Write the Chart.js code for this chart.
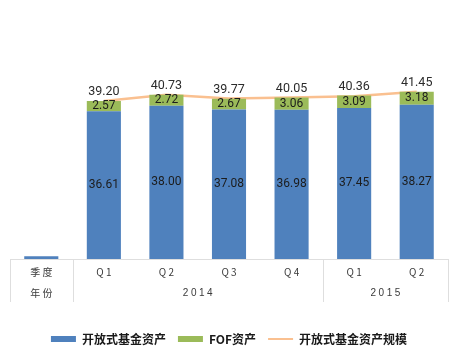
<!DOCTYPE html>
<html>
<head>
<meta charset="utf-8">
<script src="https://cdn.jsdelivr.net/npm/chart.js@4/dist/chart.umd.min.js"></script>
<style>
  html, body { margin: 0; padding: 0; background: #ffffff; }
  #wrap { position: relative; width: 463px; height: 355px; }
</style>
</head>
<body>
<div id="wrap"><canvas id="c"></canvas></div>
<script>
// ---- data ----
const categories = ["季 度", "Q 1", "Q 2", "Q 3", "Q 4", "Q 1", "Q 2"];
const headerRowLabel = "年 份";
const yearOf = [null, "2014", "2014", "2014", "2014", "2015", "2015"];
const openFundAssets = [0.7, 36.61, 38.00, 37.08, 36.98, 37.45, 38.27];
const fofAssets = [null, 2.57, 2.72, 2.67, 3.06, 3.09, 3.18];
const openFundTotal = [null, 39.20, 40.73, 39.77, 40.05, 40.36, 41.45];
const seriesNames = ["开放式基金资产", "FOF资产", "开放式基金资产规模"];

const BLUE = "#4F81BD", GREEN = "#9BBB59", PEACH = "#FAC090";
const GRIDC = "#dedede";

const labelPlugin = {
  id: "valueLabels",
  afterDatasetsDraw(chart) {
    const ctx = chart.ctx;
    ctx.save();
    ctx.textAlign = "center";
    ctx.textBaseline = "middle";
    chart.data.datasets.forEach((ds, di) => {
      const meta = chart.getDatasetMeta(di);
      meta.data.forEach((el, i) => {
        const v = ds.data[i];
        if (v == null || i === 0) return;
        const txt = v.toFixed(2);
        if (ds.type === "line") {
          ctx.font = "12.5px Roboto";
          ctx.fillStyle = "#2b2b2b";
          ctx.fillText(txt, el.x, el.y - 9);
        } else {
          ctx.font = "12px Roboto";
          ctx.fillStyle = "#1c1c1c";
          ctx.fillText(txt, el.x, (el.y + el.base) / 2);
        }
      });
    });
    ctx.restore();
  }
};

const tablePlugin = {
  id: "tableRows",
  afterDraw(chart) {
    const ctx = chart.ctx;
    const x = chart.scales.x;
    const n = categories.length;
    const step = (x.getPixelForValue(1) - x.getPixelForValue(0));
    const edge = i => x.getPixelForValue(i) - step / 2;
    const top = x.top;
    const bottom = x.top + 43;
    ctx.save();
    ctx.strokeStyle = GRIDC;
    ctx.lineWidth = 1;
    const bounds = [0, 1];
    for (let i = 2; i < n; i++) if (yearOf[i] !== yearOf[i - 1]) bounds.push(i);
    bounds.push(n);
    bounds.forEach(b => {
      const px = Math.round(edge(b)) + 0.5;
      ctx.beginPath(); ctx.moveTo(px, top); ctx.lineTo(px, bottom); ctx.stroke();
    });
    ctx.fillStyle = "#3a3a3a";
    ctx.textAlign = "center";
    ctx.textBaseline = "middle";
    const rowY = x.top + 34;
    ctx.font = "10px 'Noto Sans CJK SC'";
    ctx.fillText(headerRowLabel, x.getPixelForValue(0), rowY);
    ctx.font = "10px 'Liberation Sans'";
    ctx.letterSpacing = "2.5px";
    let s = 1;
    for (let i = 2; i <= n; i++) {
      if (i === n || yearOf[i] !== yearOf[s]) {
        const cx = (edge(s) + edge(i)) / 2;
        ctx.fillText(yearOf[s], cx + 1.25, rowY);
        s = i;
      }
    }
    ctx.restore();
  }
};

new Chart(document.getElementById("c"), {
  data: {
    labels: categories,
    datasets: [
      { type: "bar", label: seriesNames[0], data: openFundAssets, backgroundColor: BLUE, stack: "s", order: 1,
        categoryPercentage: 0.545, barPercentage: 1 },
      { type: "bar", label: seriesNames[1], data: fofAssets, backgroundColor: GREEN, stack: "s", order: 2,
        categoryPercentage: 0.545, barPercentage: 1 },
      { type: "line", label: seriesNames[2], data: openFundTotal, borderColor: PEACH, backgroundColor: PEACH,
        borderWidth: 2.5, pointRadius: 0, tension: 0, stack: "line", order: 3 }
    ]
  },
  options: {
    responsive: true,
    maintainAspectRatio: false,
    animation: false,
    layout: { padding: { left: 10, right: 15, top: 17, bottom: 0 } },
    plugins: {
      tooltip: { enabled: false },
      legend: {
        position: "bottom",
        labels: {
          usePointStyle: true,
          pointStyleWidth: 25,
          boxHeight: 6,
          padding: 12,
          color: "#1a1a1a",
          font: { family: "'Noto Sans CJK SC'", size: 12, weight: "bold" },
          sort: (a, b) => a.datasetIndex - b.datasetIndex,
          generateLabels(chart) {
            const items = Chart.defaults.plugins.legend.labels.generateLabels(chart);
            items.forEach(it => {
              const ds = chart.data.datasets[it.datasetIndex];
              if (ds.type === "line") {
                it.pointStyle = "line"; it.strokeStyle = PEACH; it.lineWidth = 2;
              } else {
                it.pointStyle = "rect"; it.lineWidth = 0; it.fillStyle = ds.backgroundColor;
              }
            });
            return items;
          }
        }
      }
    },
    scales: {
      x: {
        stacked: true,
        grid: { display: false, drawTicks: false },
        border: { display: true, color: GRIDC },
        ticks: { padding: 7, color: "#3a3a3a", font: { family: "'Noto Sans CJK SC'", size: 10 }, maxRotation: 0, autoSkip: false },
        afterFit(scale) { scale.height = 62; }
      },
      y: {
        stacked: true,
        display: false,
        min: 0,
        max: 60
      }
    }
  },
  plugins: [labelPlugin, tablePlugin]
});
</script>
</body>
</html>
